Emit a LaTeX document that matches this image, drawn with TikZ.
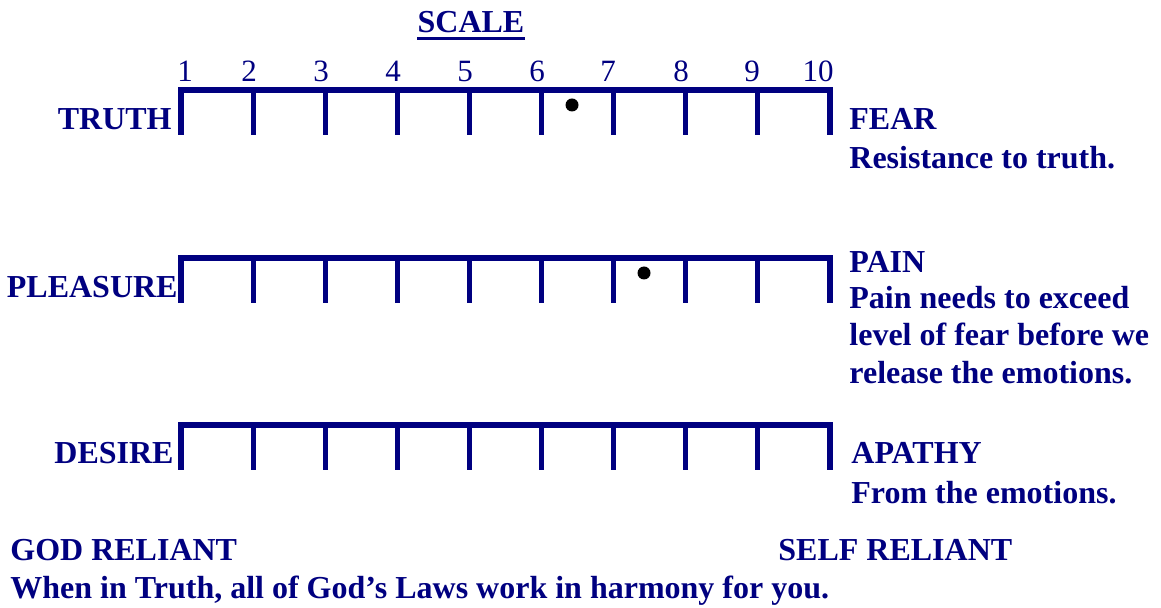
\documentclass[tikz,border=0pt]{standalone}
\usepackage{fontspec}
\setmainfont{Liberation Serif}
\usetikzlibrary{positioning}
\definecolor{navyblue}{RGB}{0,0,128}
\tikzset{
  lbl/.style={font=\fontsize{16}{19}\selectfont\bfseries, text=navyblue, inner sep=0pt},
  numlbl/.style={font=\fontsize{15.5}{18}\selectfont, text=navyblue, inner sep=0pt, anchor=base},
  scalebar/.style={line width=2.8pt, line cap=rect, navyblue},
  tickline/.style={line width=2.6pt, navyblue},
  marker/.style={circle, fill=black, inner sep=0pt, minimum size=6.5pt}
}

\begin{document}
\begin{tikzpicture}[x=0.5pt, y=-0.5pt]
    \useasboundingbox (0,0) rectangle (1161,608);

    % Title
    \node[lbl, anchor=base] (scale) at (471,33) {SCALE};
    \draw[navyblue, line width=1.4pt] ([yshift=-2.6pt]scale.base west) -- ([yshift=-2.6pt]scale.base east);

    % Numbers 1..10
    \foreach \n/\lx in {1/185, 2/249, 3/321, 4/393, 5/465, 6/537, 7/608, 8/681, 9/752, 10/818}
        \node[numlbl] (num\n) at (\lx,82) {\n};

    % The three bars with ten ticks each
    \foreach \by in {90, 258, 425} {
        \draw[scalebar] (181,\by) -- (830,\by);
        \foreach \i in {0,...,9}
            \draw[tickline] (181+72.11*\i,\by) -- (181+72.11*\i,\by+45);
    }

    % Marks
    \node[marker] (dotone) at (572,105) {};
    \node[marker] (dottwo) at (644,273) {};

    % Left ends
    \node[lbl, anchor=base east] (truth) at (172,130) {TRUTH};
    \node[lbl, anchor=base east] (pleasure) at (178,298) {PLEASURE};
    \node[lbl, anchor=base east] (desire) at (174,464) {DESIRE};

    % Right ends
    \node[lbl, anchor=base west] (fear) at (849,130) {FEAR};
    \node[lbl, anchor=base west] (fearnote) at (849,169) {Resistance to truth.};
    \node[lbl, anchor=base west] (pain) at (849,273) {PAIN};
    \node[lbl, anchor=base west] (painone) at (849,309) {Pain needs to exceed};
    \node[lbl, anchor=base west] (paintwo) at (849,346) {level of fear before we};
    \node[lbl, anchor=base west] (painthree) at (849,384) {release the emotions.};
    \node[lbl, anchor=base west] (apathy) at (851,464) {APATHY};
    \node[lbl, anchor=base west] (apathynote) at (851,503) {From the emotions.};

    % Bottom
    \node[lbl, anchor=base west] (godrel) at (10,560) {GOD RELIANT};
    \node[lbl, anchor=base west] (selfrel) at (778,560) {SELF RELIANT};
    \node[lbl, anchor=base west] (harmony) at (10,598) {When in Truth, all of God’s Laws work in harmony for you.};
\end{tikzpicture}
\end{document}
